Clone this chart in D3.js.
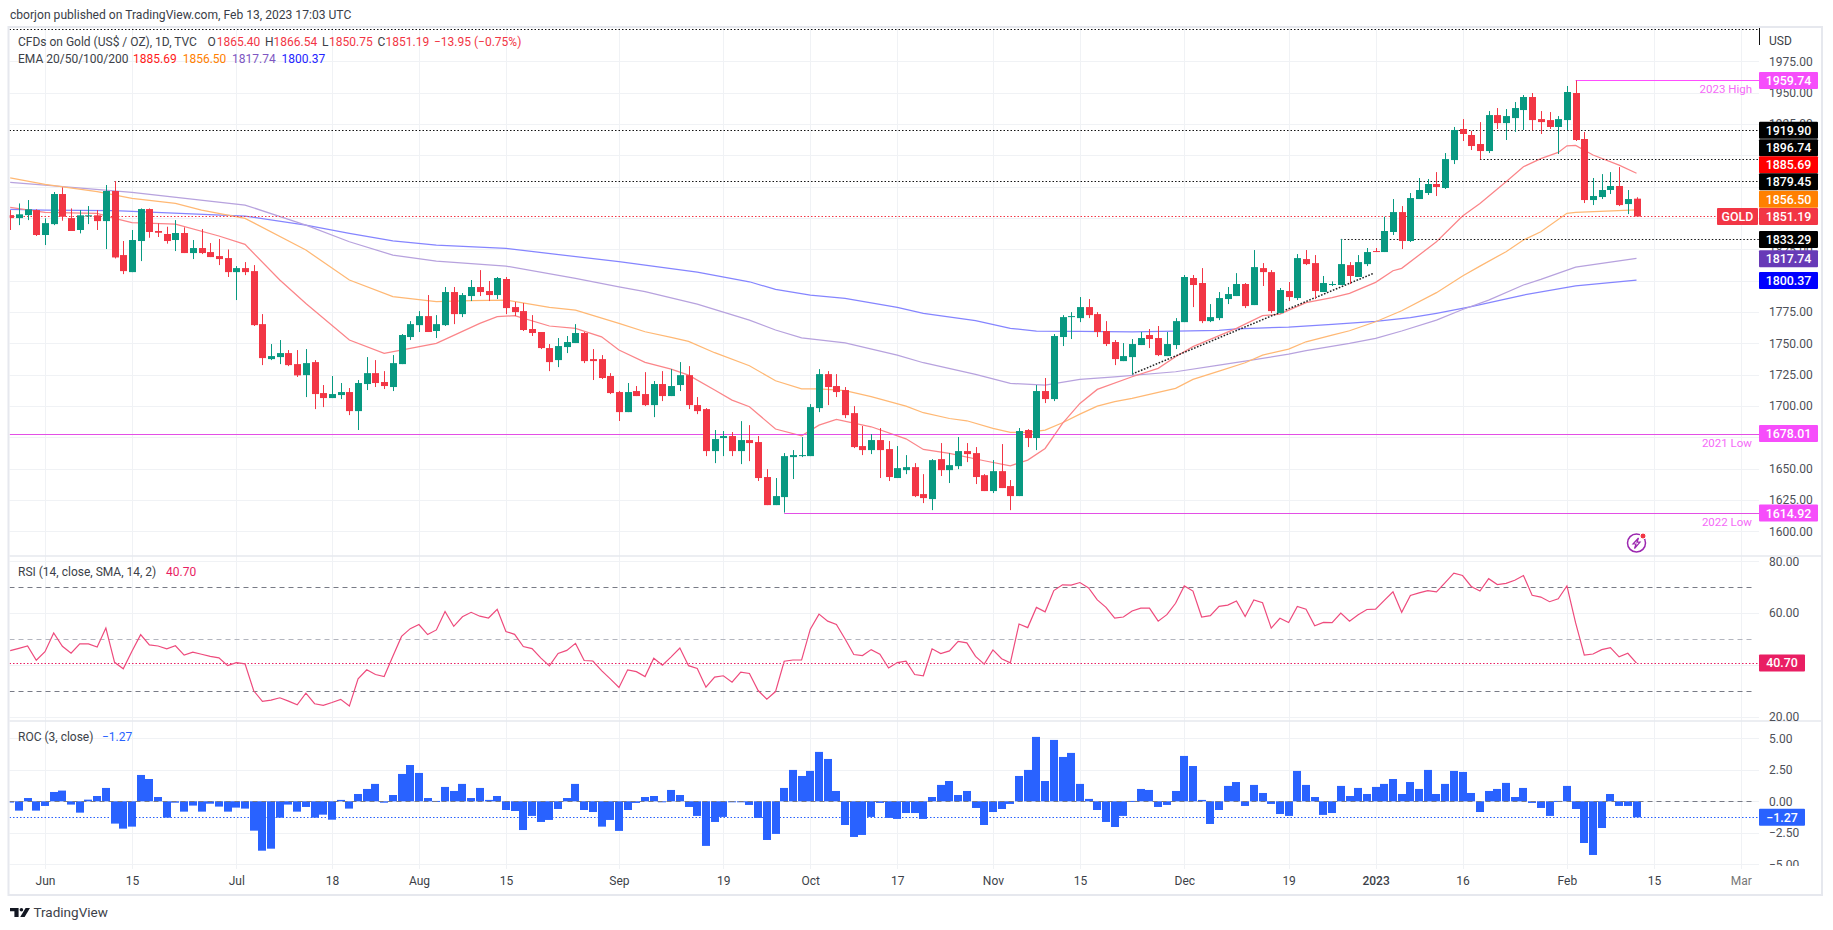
<!DOCTYPE html>
<html><head><meta charset="utf-8">
<script src="https://cdn.jsdelivr.net/npm/d3@7"></script>
<style>
html,body{margin:0;padding:0;background:#fff;overflow:hidden}
svg{display:block}
text{font-family:Roboto,"Liberation Sans",sans-serif}
</style></head><body>
<svg id="c" width="1833" height="930"></svg>
<script>
const opens=[
1852.3,1849.9,1852.3,1856.3,1836.4,1845.1,1869.1,1849.9,1840.4,1851.3,
1852.1,1847.5,1871.5,1820.4,1806.8,1831.6,1857.1,1839.6,1837.2,1832.4,
1838,1822,1826,1822.8,1819.6,1818,1806.8,1810,1807.6,1765.3,
1737.4,1739,1742.2,1733.4,1724.6,1735,1710.3,1706.3,1708.7,1711.1,
1695.9,1717.5,1726.2,1719.1,1715.1,1733.4,1755,1764.5,1771.7,1759.8,
1764.5,1790.9,1773.3,1787.7,1794.9,1791.7,1788.5,1801.3,1778.9,1775.7,
1761.4,1759,1746.2,1736.6,1747,1750.2,1758.2,1737.4,1737.4,1723.9,
1711.1,1695.1,1711.9,1709.5,1700.7,1717.5,1707.9,1716.7,1724.6,1700.7,
1697.5,1664,1674.4,1676,1664,1672.8,1671.2,1643.3,1620.9,1627.3,
1659.2,1660,1660,1698.3,1725.4,1715.9,1712.7,1694.3,1668,1664.8,
1672.8,1665.6,1642.5,1648.8,1651.2,1629.7,1625.7,1657.6,1648.8,1652,
1664,1662.4,1644.8,1632.1,1648,1636.1,1628.1,1680.8,1674.4,1711.9,
1705.5,1755,1770.9,1770.1,1778.9,1773.3,1759.8,1751,1735.8,1739,
1748.6,1756.6,1754.2,1739.8,1748.6,1766.9,1802.1,1798.1,1767.7,1770.1,
1785.3,1787.7,1797.3,1780.5,1810,1806.8,1774.1,1791.7,1786.1,1817.2,
1814,1790.9,1796.5,1796.5,1812.4,1802.9,1813.2,1823.6,1822.8,1838.8,
1854.7,1831.6,1865.1,1869.9,1877.1,1873.9,1896.2,1921,1916.2,1909,
1903.4,1932.1,1925.7,1929.7,1936.1,1946.5,1928.9,1928.1,1922.6,1928.1,
1949.7,1913,1864.3,1866.7,1872.3,1875.5,1861.1,1865.4];
const highs=[
1856.3,1861.6,1864.3,1856.9,1849.7,1870.7,1874.4,1857.6,1856.3,1859.5,
1856.3,1876.3,1879.5,1831.6,1840.4,1857.6,1857.6,1845.7,1843,1848.3,
1842.5,1832.4,1841.2,1830,1833.2,1824.9,1811.6,1814.8,1812.4,1773.3,
1749.4,1752.6,1744.6,1744.6,1745.4,1736.6,1716.7,1723.9,1718.3,1714.3,
1720.7,1739,1736.6,1727.8,1740.6,1757.4,1767.7,1775.7,1788.5,1772.5,
1794.9,1794.9,1790.1,1800.5,1808.4,1799.7,1802.9,1802.9,1782.9,1782.1,
1772.5,1759,1749.4,1754.2,1755.8,1765.3,1759,1745.4,1740.6,1726.2,
1712,1718.3,1715.9,1727,1719.9,1727.8,1729.4,1735,1731.8,1707.1,
1698.3,1680.8,1680,1679.2,1687.9,1684.7,1676,1649.6,1642.5,1662.4,
1664.8,1675.2,1701.5,1729.4,1727.8,1725.4,1715.1,1699.9,1684,1677.6,
1682.4,1672,1668,1660.8,1654.4,1645.6,1657.6,1670.4,1662.4,1675.2,
1670.4,1667.2,1645.6,1656.8,1669.6,1640.9,1682.4,1681.5,1716.7,1722.3,
1757.4,1772.5,1774.9,1786.9,1785.3,1774.9,1767.7,1752.6,1750.2,1753.4,
1759,1761.4,1763.8,1759,1770.1,1804.5,1804.5,1810,1781.3,1790.9,
1794.9,1806,1798.1,1824.4,1814,1808.4,1794.1,1798.9,1821.2,1824.4,
1820.4,1803.7,1799.4,1833.3,1814.8,1820.4,1826,1826,1851,1865.1,
1859.5,1869.9,1881.9,1881.1,1886.6,1901.8,1922.6,1928.9,1919.4,1926.5,
1935.3,1937.7,1936.9,1942.5,1948.1,1949.7,1935.3,1934.5,1931.3,1955.3,
1959.74,1918.6,1881.9,1885,1886.6,1890.6,1872.3,1866.54];
const lows=[
1840.4,1844.3,1848.3,1835.6,1828.4,1844.3,1847.8,1839.6,1837.7,1845.1,
1840.4,1825.2,1817.7,1805.2,1806.8,1815.6,1834.2,1834.8,1829.5,1823.6,
1822,1817.2,1821.2,1818.8,1812.4,1802.9,1784.5,1804.4,1763.8,1732.6,
1736.6,1733.4,1731.8,1723.1,1707.1,1697.5,1699.1,1706.3,1705.5,1692.7,
1680.8,1712.7,1715.1,1713.5,1711.9,1733.4,1752.6,1759,1759,1754.2,
1763.8,1765.3,1770.9,1783.7,1787.7,1783.7,1785.3,1773.3,1771.7,1759.8,
1755.8,1745.4,1727.8,1731,1742.2,1750.2,1734.2,1720.7,1721.5,1709.5,
1688,1695.1,1707.9,1699.9,1691.1,1703.9,1707.9,1711.9,1697.5,1693.5,
1660,1654.4,1660,1660,1653.6,1656,1640.1,1620.9,1620.9,1614.92,
1641.7,1659.2,1660,1695.1,1700.7,1707.1,1690.3,1666.4,1660.8,1661.6,
1642.5,1640.1,1642.5,1645.6,1627.3,1622.5,1616.9,1644.1,1638.5,1649.6,
1655.2,1637.7,1632.1,1630.5,1634.5,1616.9,1628.1,1667.2,1664.8,1702.3,
1703.9,1747.8,1753.4,1766.9,1770.1,1755,1747.8,1732.6,1735.8,1725.4,
1748.6,1746.2,1739.8,1739.8,1745.4,1766.9,1778.9,1766.1,1766.9,1768.5,
1781.3,1787.7,1778.1,1780.5,1795.7,1774.1,1774.1,1783.7,1784.5,1812.4,
1785.3,1790.9,1795.7,1796.5,1797.3,1802.9,1811.6,1822.8,1822.8,1836.4,
1825.2,1830.8,1865.1,1868.3,1867.5,1873.1,1893,1911.4,1904.2,1896.74,
1901.8,1921,1912.2,1918.6,1920.2,1919.9,1917,1921,1901,1920.2,
1911.4,1861.9,1860.3,1865.1,1869.1,1859.5,1853.1,1850.75];
const closes=[
1849.9,1852.9,1856.9,1836.4,1845.9,1869.1,1851,1839.6,1852.1,1852.1,
1847.5,1871.5,1818.5,1807.6,1832.4,1857.1,1838.8,1838.2,1831.6,1838,
1822,1826,1822,1818.8,1817.2,1806.8,1810,1806.8,1764.5,1738.2,
1739.8,1742.2,1732.6,1724.4,1734.2,1709.5,1706.3,1709.5,1711.1,1695.9,
1718.3,1726.2,1718.3,1715.9,1734.2,1756.6,1765.3,1771.7,1759,1765.3,
1790.9,1773.3,1788.5,1794.9,1790.9,1788.5,1802.1,1778.1,1774.9,1760.6,
1758.2,1746.2,1735,1747.8,1751,1758.2,1735.8,1735.8,1722.3,1710.3,
1695.1,1711.1,1707.9,1700.7,1717.5,1707.9,1715.9,1724.6,1700.7,1695.9,
1664,1673.6,1676,1664,1672.8,1670.4,1642.5,1620.9,1628.1,1660,
1660.8,1660.8,1699.1,1725.4,1715.1,1711.1,1692.7,1667.2,1664.8,1672.8,
1664.8,1643.3,1650.4,1651.2,1628.1,1626.5,1656.8,1648.8,1652.8,1664,
1661.6,1643.3,1632.1,1648,1634.5,1628.1,1680,1674.4,1711.9,1705.5,
1755.8,1770.9,1771.7,1778.9,1772.5,1759,1749.4,1737.4,1739.8,1749.4,
1754.2,1753.4,1740.6,1749.4,1767.7,1802.9,1796.5,1767.7,1770.9,1786.1,
1789.3,1797.3,1779.7,1810.8,1806.8,1775.7,1792.5,1786.9,1818,1813.2,
1791.7,1798.1,1797.3,1813.2,1803.7,1814.8,1822.8,1822.8,1839.6,1854.7,
1831.6,1865.9,1872.3,1877.1,1874.7,1897,1920.2,1917,1907.4,1903.4,
1932.1,1925.7,1931.3,1937.7,1946.5,1928.1,1926.5,1922.6,1928.9,1950.5,
1912.2,1864.3,1867.5,1872.3,1875.5,1860.3,1865.1,1851.19];

const ema20Idx=[0,4,10,12,14,19,24,27,31,34,39,43,46,49,54,56,58,62,65,68,70,73,76,78,81,83,85,88,91,93,95,99,103,105,108,112,115,117,119,121,123,125,129,132,134,136,141,144,146,149,152,154,157,159,160,164,167,169,172,174,176,178,179,180,182,185,187];
const ema20Vals=[1858.4,1854.5,1853.7,1849.7,1846.2,1845.1,1835.6,1828.9,1800.5,1781.8,1752.6,1742,1746,1749.9,1765.9,1771.2,1772,1763.8,1761.9,1755.2,1744.6,1734.8,1729.4,1724.6,1712.7,1704.7,1699.4,1681.6,1676.2,1684.7,1689.3,1683.4,1673.8,1665.3,1662.1,1656.3,1652.3,1656.8,1666.1,1686.1,1702,1713.2,1723.3,1730,1739.3,1747.3,1761.9,1772,1773.3,1782.4,1786.4,1789.8,1798.6,1807.9,1809.8,1831,1851.5,1861.6,1878.9,1890.9,1897.3,1902.3,1907.6,1907.9,1900.2,1892.2,1885.69];
const ema50Idx=[0,4,10,14,19,22,27,34,39,44,49,53,57,62,65,70,73,76,78,81,85,88,91,93,96,99,103,105,108,110,113,115,117,119,121,123,125,127,129,131,134,136,139,142,144,147,149,152,154,157,160,164,167,169,172,174,176,179,180,187];
const ema50Vals=[1881.9,1876.8,1871,1865.6,1861.6,1856.3,1849.7,1824.4,1800.5,1787.2,1783.2,1784,1784.5,1778.6,1776.5,1765.9,1759.2,1754.7,1751.5,1742.5,1732.1,1720.1,1713.7,1713.7,1712.2,1707.4,1699.9,1694.6,1690,1688.2,1682.1,1678.9,1678.9,1680.8,1686.6,1693.5,1699.9,1703.4,1706,1709.2,1714,1721.2,1727.8,1734.5,1740.6,1745.4,1751.2,1756.6,1760,1767.2,1776,1790.4,1803.7,1811.6,1823.1,1832.4,1839,1853.7,1854.5,1856.5];
const ema100Idx=[0,4,14,27,34,39,44,49,57,65,70,73,79,85,88,91,96,102,105,111,115,119,123,127,134,139,142,147,149,154,157,160,164,167,170,174,176,180,187];
const ema100Vals=[1878.4,1876.3,1870.4,1860.3,1844.3,1831,1820.4,1815.6,1811.6,1801.8,1795.1,1791.2,1781.3,1768.5,1760.6,1754.4,1750.4,1740.6,1734.5,1725.2,1718,1716.7,1721.2,1723.3,1727.3,1732.6,1735.8,1741.4,1744.1,1749.9,1753.9,1759.8,1768.5,1777,1784.5,1796.5,1801,1810.8,1817.74];
const ema200Idx=[0,4,12,27,34,39,44,49,57,70,79,85,88,92,96,102,105,111,115,118,123,129,139,141,147,152,157,161,164,168,174,180,187];
const ema200Vals=[1856.9,1856.3,1855.8,1851.5,1844.3,1837.7,1831.8,1828.4,1825.7,1815.1,1806.8,1799.1,1793,1788.5,1785.8,1778.6,1773.9,1768,1761.9,1759.8,1759.5,1759.2,1760.3,1761.6,1762.9,1765.1,1767.5,1770.4,1773.9,1779.2,1788.5,1795.9,1800.37];

const rsiVals=[
45.5,46.4,47.3,41.8,45.1,52.3,47.2,44.5,48.1,48.1,
46.9,54.2,41,38.5,45.3,51.7,47.7,47.3,46.2,47.4,
43.8,44.9,44.1,43.3,42.7,39.7,40.9,40.4,30,25.9,
26.4,27.3,26,24.6,29.1,25,24.4,25.5,26.7,24.1,
34.6,38.1,36.3,35.5,43.3,51,54,55.6,51.7,53.5,
60.6,54.9,58.6,60.3,58.8,58.1,61.5,52.9,51.8,47.1,
46.3,42.7,39.6,44.4,45.6,48.3,41.7,41.5,37.8,34.6,
31.3,38.1,37.4,35.5,42.6,39.9,43.1,46.5,39.7,38.6,
31.4,35.3,35.8,33.3,37.2,36.7,30.1,26.8,29.7,41.4,
41.9,41.9,53.8,59.6,56.9,55.6,50,44,43.6,45.9,
44.1,38.8,40.9,41.4,36.3,35.8,46.2,44.4,45.4,49.1,
48.5,43.3,40.3,45.8,42.4,40.8,55.8,54.4,62.2,60.5,
68.7,70.9,70.8,71.8,69.7,65.1,62.2,58.1,58.5,60.8,
61.9,61.9,56.9,59.4,63.8,70.5,68.5,58.5,59,62.6,
63.1,64.7,58.7,65.1,64,54.2,58,56.4,62.6,61.5,
55.1,56.4,56.3,60,56.9,59.4,61.4,61.5,64.9,68.2,
60.3,66.8,67.8,68.7,68.2,71.8,75.4,74.5,70.3,68.5,
73.3,71,71.5,72.7,74.5,66.9,66.2,64.4,65.5,70.5,
56.2,43.8,44.2,45.9,46.7,43.1,44.5,40.7];
const rocVals=[
-0.1,-0.74,0.26,-0.74,-0.37,0.74,0.85,-0.26,-0.9,0.13,
0.42,1.06,-1.77,-2.17,-2.01,2.09,1.77,0.34,-1.3,-0.11,
-0.82,-0.34,-0.82,-0.19,-0.42,-0.82,-0.5,-0.58,-2.33,-3.92,
-3.76,-1.3,-0.26,-0.82,-0.45,-1.3,-1.06,-1.46,0.11,-0.58,
0.58,0.98,1.38,-0.11,0.5,2.17,2.88,2.25,0.26,0.03,
1.14,0.82,1.38,0.26,1.06,0.11,0.42,-0.69,-0.77,-2.28,
-1.16,-1.64,-1.48,-0.61,0.26,1.38,-0.69,-0.85,-2.01,-1.48,
-2.35,-0.69,-0.13,0.34,0.42,-0.05,0.9,0.5,-0.45,-1.16,
-3.54,-1.64,-1.24,-0.03,-0.03,-0.29,-1.32,-3.07,-2.59,1.06,
2.49,2.01,2.41,3.92,3.36,0.82,-1.88,-2.83,-2.67,-1.24,
-0.13,-1.32,-1.4,-0.93,-0.93,-1.4,0.34,1.3,1.61,0.5,
0.82,-0.53,-1.88,-0.85,-0.61,-0.21,2.01,2.49,5.11,1.61,
4.87,3.52,3.84,1.38,0.19,-0.69,-1.64,-2.04,-1.16,0.03,
0.98,0.9,-0.45,-0.29,0.82,3.6,2.8,0.11,-1.8,-0.69,
1.22,1.53,-0.37,1.3,0.66,-0.21,-1.01,-1.16,2.41,1.3,
0.34,-1.08,-0.93,1.22,0.42,1.06,0.58,1.14,1.38,1.77,
0.58,1.53,0.98,2.49,0.58,1.38,2.41,2.33,0.66,-0.85,
0.82,0.98,1.46,0.34,1.06,-0.13,-0.53,-1.16,0.03,1.22,
-0.61,-3.31,-4.26,-2.12,0.58,-0.37,-0.37,-1.27];

const timeIdx=[4,14,26,37,47,57,70,82,92,102,113,123,135,147,157,167,179,189,199];
const timeLabels=["Jun","15","Jul","18","Aug","15","Sep","19","Oct","17","Nov","15","Dec","19","2023","16","Feb","15","Mar"];
const priceTicks=[1975,1950,1925,1825,1775,1750,1725,1700,1650,1625,1600];
const priceGrid=[1975,1950,1925,1900,1875,1850,1825,1800,1775,1750,1725,1700,1675,1650,1625,1600];
const rsiTicks=[80,60,20];
const rsiGrid=[80,60,40,20];
const rocTicks=[5,2.5,0,-2.5,-5];
const rsiBands=[70,50,30];

const badgeVals=[1959.74,1919.90,1896.74,1885.69,1879.45,1856.50,1851.19,1833.29,1817.74,1800.37,1678.01,1614.92];
const badgeFill=["#f64dfb","#000","#000","#ff0000","#000","#ff8000","#f23645","#000","#673ab7","#0000ff","#f64dfb","#f64dfb"];
const badgeNudge=[0,0,-11.7,-8.5,0.6,-10.5,0,0.6,0.3,0.4,0,0.5];

const W=1833,paneL=9.5,paneR=1759,frameR=1822;
const mainT=28,mainB=556,rsiB=721,rocB=866,frameB=895;
const cUp="#089981",cDn="#f23645",magenta="#e34fe6";

const x=d3.scaleLinear().domain([0,187]).range([10.2,1636.5]);
const y=d3.scaleLinear().domain([1975,1600]).range([61.3,531.3]);
const yR=d3.scaleLinear().domain([80,20]).range([561.3,716.7]);
const yC=d3.scaleLinear().domain([5,-5]).range([738.3,864.3]);
const crisp=v=>Math.round(v)+0.5;

const svg=d3.select("#c");
const defs=svg.append("defs");
function clip(id,a,b,c,d){defs.append("clipPath").attr("id",id).append("rect").attr("x",a).attr("y",b).attr("width",c-a).attr("height",d-b);}
clip("cMain",paneL,mainT,paneR,mainB);
clip("cRsi",paneL,mainB+1,paneR,rsiB);
clip("cRoc",paneL,rsiB+1,paneR,rocB);
clip("axR",paneR,mainB+1,frameR,rsiB);
clip("axC",paneR,rsiB+1,frameR,rocB);

svg.append("text").text("cborjon published on TradingView.com, Feb 13, 2023 17:03 UTC").attr("x",10).attr("y",19).attr("font-size",12.1).attr("fill","#3a3e48");

const grid=svg.append("g").attr("stroke","#f0f2f5").attr("stroke-width",1);
timeIdx.forEach(i=>grid.append("line").attr("x1",crisp(x(i))).attr("x2",crisp(x(i))).attr("y1",mainT).attr("y2",rocB+3));
priceGrid.forEach(v=>grid.append("line").attr("x1",paneL).attr("x2",paneR).attr("y1",crisp(y(v))).attr("y2",crisp(y(v))));
rsiGrid.forEach(v=>grid.append("line").attr("x1",paneL).attr("x2",paneR).attr("y1",crisp(yR(v))).attr("y2",crisp(yR(v))));
rocTicks.forEach(v=>grid.append("line").attr("x1",paneL).attr("x2",paneR).attr("y1",crisp(yC(v))).attr("y2",crisp(yC(v))));

const main=svg.append("g").attr("clip-path","url(#cMain)");
const emaLine=d3.line().x(d=>x(d[0])).y(d=>y(d[1]));
[[ema200Idx,ema200Vals,"#8585ff"],[ema100Idx,ema100Vals,"#b7a2de"],[ema50Idx,ema50Vals,"#ffb874"],[ema20Idx,ema20Vals,"#fb8589"]].forEach(e=>{
  main.append("path").attr("d",emaLine(d3.zip(e[0],e[1]))).attr("fill","none").attr("stroke",e[2]).attr("stroke-width",1.25);
});

function hline(v,i0,col,dash,w){
  const l=main.append("line").attr("x1",i0==null?paneL:x(i0)).attr("x2",paneR).attr("y1",crisp(y(v))).attr("y2",crisp(y(v))).attr("stroke",col).attr("stroke-width",w||1);
  if(dash) l.attr("stroke-dasharray",dash);
}
hline(2000.5,null,"#111","1.5 2");
hline(1919.9,null,"#111","1.5 2");
hline(1896.74,169,"#111","1.5 2");
hline(1879.45,12,"#111","1.5 2");
hline(1833.29,153,"#111","1.5 2");
hline(1851.19,null,cDn,"1.5 2");
hline(1959.74,180,"#ff4dff",null,1);
hline(1678.01,null,magenta,null,1);
hline(1614.92,89,magenta,null,1);
main.append("line").attr("x1",x(129)).attr("x2",x(156.75)).attr("y1",y(1725.4)).attr("y2",y(1805.8)).attr("stroke","#222").attr("stroke-width",1.5).attr("stroke-dasharray","1.6 1.6");

const idx=d3.range(opens.length);
main.selectAll("line.w").data(idx).join("line").attr("class","w")
  .attr("x1",i=>crisp(x(i))).attr("x2",i=>crisp(x(i))).attr("y1",i=>y(highs[i])).attr("y2",i=>y(lows[i]))
  .attr("stroke",i=>closes[i]>=opens[i]?cUp:cDn).attr("stroke-width",1);
main.selectAll("rect.b").data(idx).join("rect").attr("class","b")
  .attr("x",i=>crisp(x(i))-3.5).attr("width",7)
  .attr("y",i=>y(Math.max(opens[i],closes[i])))
  .attr("height",i=>Math.max(1,Math.abs(y(opens[i])-y(closes[i]))))
  .attr("fill",i=>closes[i]>=opens[i]?cUp:cDn);

[["2023 High",1959.74],["2021 Low",1678.01],["2022 Low",1614.92]].forEach(a=>{
  svg.append("text").text(a[0]).attr("x",paneR-7).attr("y",y(a[1])+13).attr("text-anchor","end").attr("font-size",11.5).attr("fill","#f56af8");
});

// lightning badge
const bolt=svg.append("g").attr("transform",`translate(${x(187)},543)`);
bolt.append("circle").attr("r",9).attr("fill","none").attr("stroke","#9c27b0").attr("stroke-width",1.5);
bolt.append("path").attr("d","M2,-5 L-3.5,1 L-0.5,1 L-2,5.5 L3.5,-0.8 L0.5,-0.8 Z").attr("fill","none").attr("stroke","#9c27b0").attr("stroke-width",1.2);
bolt.append("circle").attr("cx",6.5).attr("cy",-7).attr("r",3).attr("fill","#f23645").attr("stroke","#fff");

// RSI pane
const rsi=svg.append("g").attr("clip-path","url(#cRsi)");
const dashW=paneR-6;
rsiBands.forEach((v,k)=>rsi.append("line").attr("x1",paneL).attr("x2",dashW).attr("y1",crisp(yR(v))).attr("y2",crisp(yR(v))).attr("stroke",k==1?"#b2b5be":"#787b86").attr("stroke-dasharray","5 4"));
rsi.append("line").attr("x1",paneL).attr("x2",paneR).attr("y1",crisp(yR(40.7))).attr("y2",crisp(yR(40.7))).attr("stroke","#e91e63").attr("stroke-dasharray","1.5 2");
rsi.append("path").attr("d",d3.line().x((d,i)=>x(i)).y(d=>yR(d))(rsiVals)).attr("fill","none").attr("stroke","#ee4b7d").attr("stroke-width",1.2);

// ROC pane
const roc=svg.append("g").attr("clip-path","url(#cRoc)");
roc.selectAll("rect").data(rocVals).join("rect")
  .attr("x",(d,i)=>crisp(x(i))-4.5).attr("width",8)
  .attr("y",d=>Math.min(yC(d),yC(0))).attr("height",d=>Math.max(1,Math.abs(yC(d)-yC(0))))
  .attr("fill","#2962ff");
roc.append("line").attr("x1",paneL).attr("x2",dashW).attr("y1",crisp(yC(0))).attr("y2",crisp(yC(0))).attr("stroke","#787b86").attr("stroke-dasharray","5 4");
roc.append("line").attr("x1",paneL).attr("x2",paneR).attr("y1",crisp(yC(-1.27))).attr("y2",crisp(yC(-1.27))).attr("stroke","#2962ff").attr("stroke-dasharray","1.5 2");

// Frame & separators
const sep="#e6e8ee";
svg.append("rect").attr("x",paneL-1).attr("y",mainT-1).attr("width",frameR-paneL+1).attr("height",frameB-mainT+1).attr("fill","none").attr("stroke",sep).attr("stroke-width",2);
svg.append("line").attr("x1",paneL).attr("x2",frameR).attr("y1",mainB).attr("y2",mainB).attr("stroke",sep).attr("stroke-width",1.5);
svg.append("line").attr("x1",paneL).attr("x2",frameR).attr("y1",rsiB).attr("y2",rsiB).attr("stroke",sep).attr("stroke-width",1.5);
svg.append("line").attr("x1",paneR+.5).attr("x2",paneR+.5).attr("y1",mainT).attr("y2",45).attr("stroke","#111");

// axes
function styleAxis(g){g.select(".domain").remove();g.selectAll("text").attr("font-size",12).attr("fill","#4d5058").attr("font-family","Roboto");}
svg.append("g").attr("transform",`translate(${paneR},0)`)
  .call(d3.axisRight(y).tickValues(priceTicks).tickSize(0).tickPadding(10).tickFormat(d3.format(".2f"))).call(styleAxis);
svg.append("g").attr("clip-path","url(#axR)").append("g").attr("transform",`translate(${paneR},0)`)
  .call(d3.axisRight(yR).tickValues(rsiTicks).tickSize(0).tickPadding(10).tickFormat(d3.format(".2f"))).call(styleAxis);
svg.append("g").attr("clip-path","url(#axC)").append("g").attr("transform",`translate(${paneR},0)`)
  .call(d3.axisRight(yC).tickValues(rocTicks).tickSize(0).tickPadding(10).tickFormat(d3.format(".2f"))).call(styleAxis);
const tA=svg.append("g").attr("transform",`translate(0,${rocB})`)
  .call(d3.axisBottom(x).tickValues(timeIdx).tickSize(0).tickPadding(10.5).tickFormat((d,i)=>timeLabels[i])).call(styleAxis);
tA.selectAll("text").attr("fill",(d,i)=>timeLabels[i]=="Mar"?"#777":"#3c3f48").attr("font-weight",(d,i)=>timeLabels[i]=="2023"?500:400);
svg.append("text").text("USD").attr("x",1769).attr("y",45).attr("font-size",12).attr("fill","#3c3f48");

// badges
function badge(cy,w,fill,txt,x0){
  const g=svg.append("g");
  g.append("rect").attr("x",x0==null?paneR:x0).attr("y",cy-8.5).attr("width",w).attr("height",17).attr("rx",1).attr("fill",fill);
  g.append("text").text(txt).attr("x",(x0==null?paneR:x0)+w/2).attr("y",cy+4.4).attr("text-anchor","middle").attr("font-size",12.4).attr("font-weight",500).attr("fill","#fff");
}
badgeVals.forEach((v,i)=>badge(y(v)+badgeNudge[i],59,badgeFill[i],d3.format(".2f")(v)));
badge(y(1851.19),41,cDn,"GOLD",1717);
badge(yR(40.7),46,"#e91e63","40.70");
badge(yC(-1.27),46,"#2962ff","\u22121.27");

// legends
function seg(yy,arr){arr.forEach(s=>svg.append("text").text(s[0]).attr("x",s[1]).attr("y",yy).attr("font-size",12).attr("fill",s[2]));}
const ink="#3c3f48",rd="#f23645";
seg(46,[["CFDs on Gold (US$ / OZ), 1D, TVC",18,ink],["O",207.6,ink],["1865.40",216.7,rd],["H",265,ink],["1866.54",273.6,rd],["L",322,ink],["1850.75",329,rd],["C",377.6,ink],["1851.19",385.5,rd],["\u221213.95 (\u22120.75%)",434,rd]]);
seg(62.5,[["EMA 20/50/100/200",18,ink],["1885.69",133,"#ff1a1a"],["1856.50",182.7,"#ff8000"],["1817.74",232,"#7e57c2"],["1800.37",281.5,"#2323ff"]]);
seg(576,[["RSI (14, close, SMA, 14, 2)",18,ink],["40.70",166,"#e91e63"]]);
seg(741,[["ROC (3, close)",18,ink],["\u22121.27",102,"#2962ff"]]);

// TradingView mark
const tv=svg.append("g").attr("fill","#131722");
tv.append("path").attr("d","M10,908 H18.6 V917 H14.4 V911.2 H10 Z");
tv.append("circle").attr("cx",21.4).attr("cy",909.7).attr("r",1.8);
tv.append("path").attr("d","M25.6,908 H30 L24.6,917 H20.2 Z");
svg.append("text").text("TradingView").attr("x",33.5).attr("y",917).attr("font-size",13.5).attr("fill","#3c3f48");
</script>
</body></html>
